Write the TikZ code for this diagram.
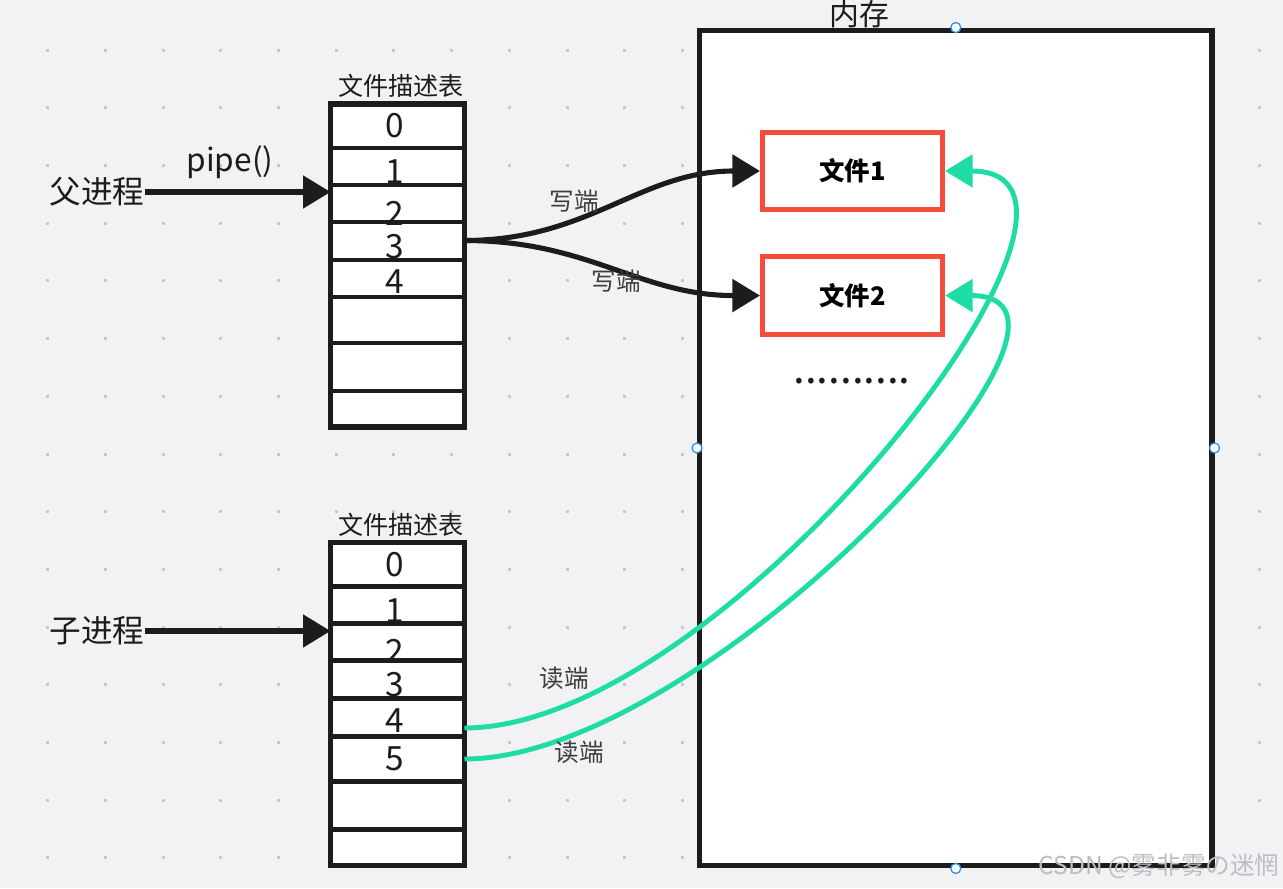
\documentclass[tikz,border=0pt]{standalone}
\usepackage{fontspec}
\setmainfont{Noto Sans CJK SC}
\usetikzlibrary{positioning, calc, arrows.meta}

\definecolor{bgpaper}{RGB}{242,242,245}
\definecolor{griddot}{RGB}{200,200,204}
\definecolor{inkblack}{RGB}{28,28,28}
\definecolor{filered}{RGB}{245,76,60}
\definecolor{readgreen}{RGB}{29,221,165}
\definecolor{handleblue}{RGB}{40,140,245}
\definecolor{markgray}{RGB}{190,190,194}

\begin{document}
\begin{tikzpicture}[
    x=0.02cm, y=-0.02cm,
    membox/.style={draw=inkblack, line width=2.9pt, fill=white, minimum width=10.25cm, minimum height=16.72cm},
    fdtable/.style={draw=inkblack, line width=3.1pt, fill=white, minimum width=2.68cm, minimum height=6.46cm, outer sep=0pt},
    rowline/.style={draw=inkblack, line width=2.4pt},
    filebox/.style={draw=filered, line width=2.9pt, fill=white, minimum width=3.6cm, minimum height=1.55cm, font=\fontsize{14.5pt}{14.5pt}\selectfont\bfseries},
    fdnum/.style={inner sep=0pt, xshift=-0.06cm, text=inkblack, font=\fontsize{19pt}{19pt}\selectfont},
    proctext/.style={inner sep=0pt, text=inkblack, font=\fontsize{18pt}{18pt}\selectfont},
    tabtitle/.style={inner sep=0pt, text=inkblack, font=\fontsize{14.3pt}{14.3pt}\selectfont},
    endlabel/.style={inner sep=0pt, text=inkblack!85, font=\fontsize{14pt}{14pt}\selectfont},
    callarrow/.style={draw=inkblack, line width=2.9pt, -{Triangle[length=0.55cm, width=0.64cm]}},
    writeend/.style={callarrow},
    readend/.style={draw=readgreen, line width=2.8pt, -{Triangle[length=0.55cm, width=0.64cm]}},
    handle/.style={draw=handleblue, line width=0.7pt, fill=white}
]
% paper and dot grid
\fill[bgpaper] (0,0) rectangle (1283,888);
\useasboundingbox (0,0) rectangle (1283,888);
\foreach \i in {0,...,21}
  \foreach \j in {0,...,14}
    \fill[griddot] ({47.7+57.7*\i-1.5},{50.1+57.7*\j-1.5}) rectangle +(3,3);

% memory
\node[membox] (mem) at (955.75,448) {};
\node[proctext, font=\fontsize{17pt}{17pt}\selectfont] (memtitle) at (859,14) {内存};
\foreach \side in {north,south,east,west}
  \draw[handle] (mem.\side) circle (0.1cm);

% files in memory
\node[filebox] (f1) at (852.5,171) {文件1};
\node[filebox, below=0.84cm of f1] (f2) {文件2};
\node[inner sep=0pt, text=inkblack, font=\fontsize{24pt}{24pt}\selectfont] (more) at (852,381) {..........};

% parent file descriptor table
\node[fdtable] (ptab) at (397.5,265.5) {};
\node[tabtitle, above=0.12cm of ptab, xshift=0.07cm] (ptitle) {文件描述表};
\draw[rowline] ($(ptab.north west)+(0,44)$) -- ($(ptab.north east)+(0,44)$);
\draw[rowline] ($(ptab.north west)+(0,81)$) -- ($(ptab.north east)+(0,81)$);
\draw[rowline] ($(ptab.north west)+(0,118)$) -- ($(ptab.north east)+(0,118)$);
\draw[rowline] ($(ptab.north west)+(0,156)$) -- ($(ptab.north east)+(0,156)$);
\draw[rowline] ($(ptab.north west)+(0,193)$) -- ($(ptab.north east)+(0,193)$);
\draw[rowline] ($(ptab.north west)+(0,239)$) -- ($(ptab.north east)+(0,239)$);
\draw[rowline] ($(ptab.north west)+(0,287)$) -- ($(ptab.north east)+(0,287)$);
\draw[inkblack, line width=3.1pt] (ptab.north west) rectangle (ptab.south east);
\node[fdnum] (p0) at ($(ptab.north)+(0,22)$) {0};
\node[fdnum] (p1) at ($(ptab.north)+(0,68)$) {1};
\node[fdnum] (p2) at ($(ptab.north)+(0,109)$) {2};
\node[fdnum] (p3) at ($(ptab.north)+(0,143)$) {3};
\node[fdnum] (p4) at ($(ptab.north)+(0,178)$) {4};

% child file descriptor table
\node[fdtable] (ctab) at (397.5,704) {};
\node[tabtitle, above=0.12cm of ctab, xshift=0.07cm] (ctitle) {文件描述表};
\draw[rowline] ($(ctab.north west)+(0,44)$) -- ($(ctab.north east)+(0,44)$);
\draw[rowline] ($(ctab.north west)+(0,81)$) -- ($(ctab.north east)+(0,81)$);
\draw[rowline] ($(ctab.north west)+(0,118)$) -- ($(ctab.north east)+(0,118)$);
\draw[rowline] ($(ctab.north west)+(0,156)$) -- ($(ctab.north east)+(0,156)$);
\draw[rowline] ($(ctab.north west)+(0,194)$) -- ($(ctab.north east)+(0,194)$);
\draw[rowline] ($(ctab.north west)+(0,239)$) -- ($(ctab.north east)+(0,239)$);
\draw[rowline] ($(ctab.north west)+(0,287)$) -- ($(ctab.north east)+(0,287)$);
\draw[inkblack, line width=3.1pt] (ctab.north west) rectangle (ctab.south east);
\node[fdnum] (c0) at ($(ctab.north)+(0,22)$) {0};
\node[fdnum] (c1) at ($(ctab.north)+(0,68)$) {1};
\node[fdnum] (c2) at ($(ctab.north)+(0,109)$) {2};
\node[fdnum] (c3) at ($(ctab.north)+(0,142)$) {3};
\node[fdnum] (c4) at ($(ctab.north)+(0,178)$) {4};
\node[fdnum] (c5) at ($(ctab.north)+(0,216)$) {5};

% processes
\node[proctext] (parent) at (97,192) {父进程};
\node[proctext] (pipe) at (230,162) {pipe()};
\draw[callarrow] (parent.east) -- (parent.east -| ptab.west);
\node[proctext] (child) at (97,631) {子进程};
\draw[callarrow] (child.east) -- (child.east -| ctab.west);

% write ends
\draw[writeend] ($(ptab.east)+(0,-25)$) .. controls +(125,0) and +(-120,0) .. (f1.west);
\draw[writeend] ($(ptab.east)+(0,-25)$) .. controls +(125,0) and +(-120,0) .. (f2.west);
\node[endlabel] (w1) at (574,201) {写端};
\node[endlabel] (w2) at (616,281) {写端};

% read ends
\draw[readend] ($(ctab.east)+(0,24)$) .. controls +(262,0) and +(212,0) .. (f1.east);
\draw[readend] ($(ctab.east)+(0,55)$) .. controls +(242,0) and +(192,0) .. (f2.east);
\node[endlabel] (r1) at (564,678) {读端};
\node[endlabel] (r2) at (579,752) {读端};

\node[inner sep=0pt, text=markgray, font=\fontsize{14pt}{14pt}\selectfont] (mark) at (1159,866) {CSDN @雾非雾の迷惘};
\end{tikzpicture}
\end{document}
